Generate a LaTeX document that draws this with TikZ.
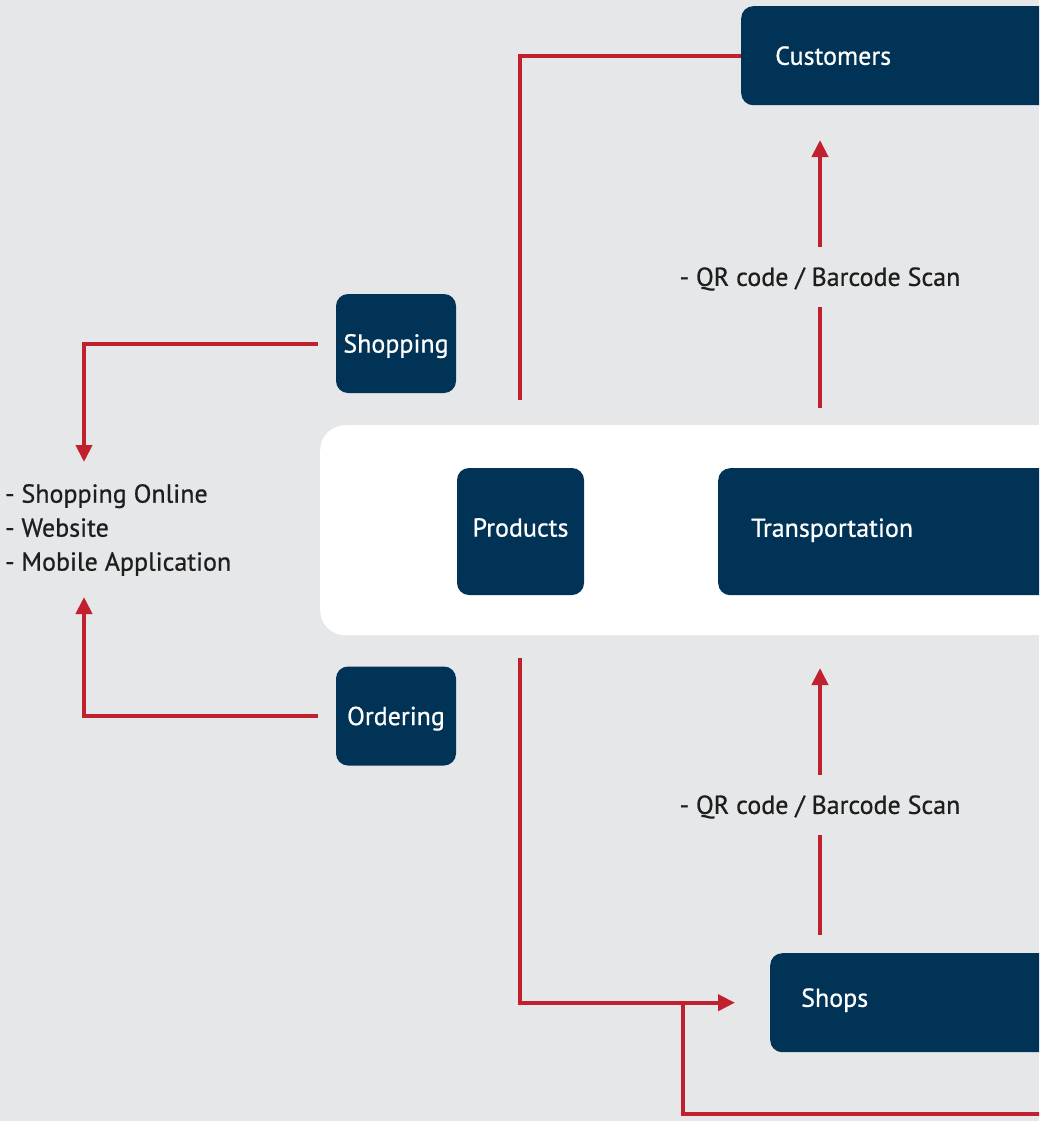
\documentclass[tikz,border=0pt]{standalone}
\usepackage{fontspec}
\setmainfont{PT Sans}[FakeBold=0.7]
\usetikzlibrary{arrows.meta}
\definecolor{bg}{HTML}{E6E7E9}
\definecolor{navy}{HTML}{003356}
\definecolor{redline}{HTML}{C1202F}
\definecolor{ink}{HTML}{1E1E1E}

\begin{document}
\begin{tikzpicture}[x=1pt,y=-1pt,
  box/.style={fill=navy, text=white, rounded corners=12pt,
    font=\fontsize{26}{30}\selectfont, inner sep=0pt,
    text height=18.2pt, text depth=0pt},
  widebox/.style={box, anchor=north west, text width=330pt, align=left},
  wire/.style={draw=redline, line width=4pt},
  tip/.style={-{Triangle[length=17pt,width=16pt]}},
  lbl/.style={font=\fontsize{26}{34}\selectfont, text=ink, inner sep=0pt}]

% canvas
\fill[bg] (0,0) rectangle (1039,1121);
\useasboundingbox (0,0) rectangle (1039,1121);
\clip (0,0) rectangle (1039,1121);

% white band behind the central stage
\node[fill=white, rounded corners=25pt, anchor=north west,
  minimum width=760pt, minimum height=210pt, inner sep=0pt] (panel) at (320,425) {};

% boxes
\node[widebox, minimum height=99pt, inner xsep=34pt] (cust) at (741,6) {Customers};
\node[box, minimum width=120pt, minimum height=99pt] (shop) at (396,343.5) {Shopping};
\node[box, minimum width=127pt, minimum height=127pt] (prod) at (520.5,531.5) {\raisebox{4pt}{Products}};
\node[widebox, minimum height=127pt, inner xsep=33pt] (trans) at (718,468) {\raisebox{4pt}{Transportation}};
\node[box, minimum width=120pt, minimum height=99pt] (ord) at (396,716) {Ordering};
\node[widebox, minimum height=99pt, inner xsep=31pt] (shops) at (770,953) {\raisebox{5pt}{Shops}};

% labels
\node[lbl, anchor=west, align=left] (channels) at (5,530)
  {- Shopping Online\\- Website\\- Mobile Application};
\node[lbl] (qr1) at (820,279) {- QR code / Barcode Scan};
\node[lbl] (qr2) at (820,807) {- QR code / Barcode Scan};

% connector end points
\coordinate (produp) at (520,400);
\coordinate (chin) at (84,462);
\coordinate (chout) at (84,597);
\coordinate (pdown) at (520,658);
\coordinate (fork) at (683,1004);
\coordinate (farright) at (1060,1114);
\coordinate (ta) at (820,408);
\coordinate (tb) at (820,307);
\coordinate (tc) at (820,247);
\coordinate (td) at (820,140);
\coordinate (sa) at (820,935);
\coordinate (sb) at (820,835);
\coordinate (sc) at (820,775);
\coordinate (sd) at (820,668);

% connectors
\draw[wire] (cust.west) -| (produp);
\draw[wire, tip] ([xshift=-18pt]shop.west) -| (chin);
\draw[wire, tip] ([xshift=-18pt]ord.west) -| (chout);
\draw[wire, tip] (pdown) |- ([xshift=-35pt]shops.west);
\draw[wire] (fork) |- (farright);
\draw[wire] (ta) -- (tb);
\draw[wire, tip] (tc) -- (td);
\draw[wire] (sa) -- (sb);
\draw[wire, tip] (sc) -- (sd);
\end{tikzpicture}
\end{document}
